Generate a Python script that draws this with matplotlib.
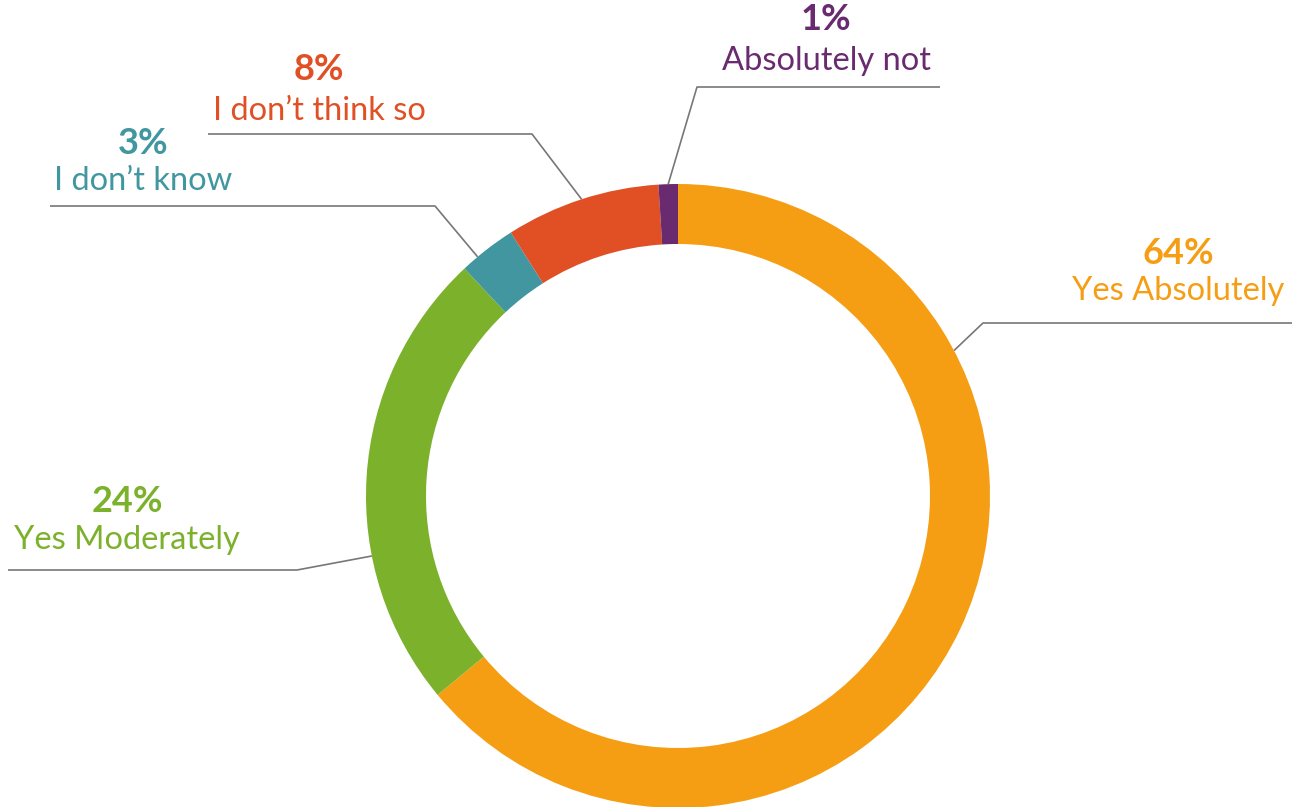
import matplotlib
matplotlib.use('Agg')
import matplotlib.pyplot as plt
import numpy as np

plt.rcParams['font.family'] = ['Lato', 'DejaVu Sans']

# data
labels = ['Yes Absolutely', 'Yes Moderately', "I don\u2019t know", "I don\u2019t think so", 'Absolutely not']
values = [64, 24, 3, 8, 1]
colors = ['#F59E14', '#7CB12C', '#4196A0', '#E05024', '#6A2A70']

# layout (pixel units, y upward)
W, H = 1294, 807
cx, cy, R = 678, 311, 312
ring = 60
anchor_frac = [0.27, 0.33, 0.3, 0.5, 0.5]      # where along each wedge the leader starts
elbows = [(983, 484), (297, 237), (435, 601), (532, 673), (697, 720)]
line_end = [1292, 8, 50, 208, 940]
text_x = [1178, 127, 143, 319, 826]
pct_base = [543, 295, 653, 727, 777]
name_base = [507, 258, 617, 687, 737]

fig = plt.figure(figsize=(W / 100, H / 100), dpi=100)
ax = fig.add_axes([0, 0, 1, 1])

wedges, _ = ax.pie(values, colors=colors, startangle=90, counterclock=False,
                   center=(cx, cy), radius=R,
                   wedgeprops=dict(width=ring, linewidth=0))

ax.set_xlim(0, W)
ax.set_ylim(0, H)
ax.set_aspect('equal')
ax.axis('off')

for i, w in enumerate(wedges):
    t1, t2 = w.theta1, w.theta2
    # counterclock=False -> wedge starts at theta2 going down
    ang = np.deg2rad(t2 - anchor_frac[i] * (t2 - t1))
    x0, y0 = cx + R * np.cos(ang), cy + R * np.sin(ang)
    ex, ey = elbows[i]
    ax.plot([x0, ex, line_end[i]], [y0, ey, ey], color='#777777', lw=1.2,
            solid_capstyle='butt', zorder=1)
    ax.text(text_x[i], pct_base[i], f'{values[i]}%', color=colors[i],
            fontsize=26, fontweight='bold', ha='center', va='baseline')
    ax.text(text_x[i], name_base[i], labels[i], color=colors[i],
            fontsize=23.5, ha='center', va='baseline')

fig.savefig('out.png', dpi=100)
